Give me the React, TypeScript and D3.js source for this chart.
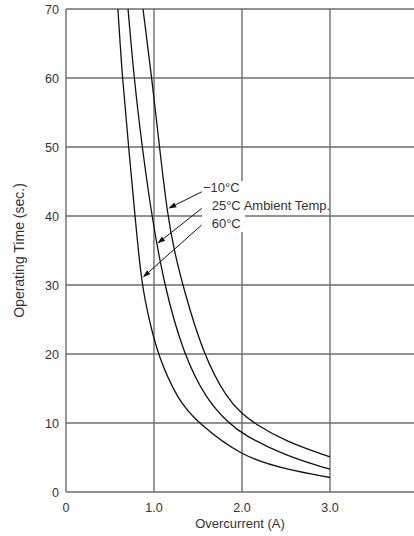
import React from "react";
import * as d3 from "d3";

const xTicks = [0, 1, 2, 3];
const xTickLabels = ["0", "1.0", "2.0", "3.0"];
const yTicks = [0, 10, 20, 30, 40, 50, 60, 70];

const curveMinus10X = [0.875, 0.975, 1.062, 1.155, 1.23, 1.325, 1.555, 1.84, 2.0, 2.13, 2.5, 3.0];
const curveMinus10Y = [70, 60, 50, 40, 35, 30, 20, 13.3, 11.4, 10, 7.3, 5.1];
const curve25X = [0.705, 0.773, 0.865, 0.974, 1.115, 1.333, 1.6, 1.85, 2.0, 2.5, 3.0];
const curve25Y = [70, 60, 50, 40, 30, 20, 13.3, 10, 8.4, 5.2, 3.3];
const curve60X = [0.59, 0.64, 0.712, 0.784, 0.86, 0.945, 1.04, 1.27, 1.5, 2.0, 2.5, 3.0];
const curve60Y = [70, 60, 50, 40, 30, 25, 20, 13.3, 10, 5.1, 3.3, 2.1];

const labels = ["\u221210\u00B0C", "25\u00B0C Ambient Temp.", "60\u00B0C"];
const labelX = [1.557, 1.656, 1.656];
const labelY = [43.5, 40.9, 38.3];
const arrowTipX = [1.163, 1.0375, 0.872];
const arrowTipY = [41.1, 36.0, 31.1];
const arrowTailX = [1.542, 1.542, 1.542];
const arrowTailY = [43.5, 41.1, 38.7];

const W = 414;
const H = 536;
const FONT = "'Liberation Sans', Arial, Helvetica, sans-serif";

export default function App() {
  const x = d3.scaleLinear().domain([0, 3.955]).range([66, 414]);
  const y = d3.scaleLinear().domain([0, 70]).range([492, 9]);
  const gridColor = "#6c6c6c";
  const textColor = "#333";

  const line = d3
    .line<[number, number]>()
    .x((d) => x(d[0]))
    .y((d) => y(d[1]))
    .curve(d3.curveBasis);

  const series = [
    curveMinus10X.map((v, i) => [v, curveMinus10Y[i]] as [number, number]),
    curve25X.map((v, i) => [v, curve25Y[i]] as [number, number]),
    curve60X.map((v, i) => [v, curve60Y[i]] as [number, number]),
  ];

  const arrows = arrowTipX.map((tx, i) => {
    const x1 = x(arrowTailX[i]);
    const y1 = y(arrowTailY[i]);
    const x2 = x(tx);
    const y2 = y(arrowTipY[i]);
    const ang = Math.atan2(y2 - y1, x2 - x1);
    const L = 8;
    const Wd = 2.6;
    const bx = x2 - L * Math.cos(ang);
    const by = y2 - L * Math.sin(ang);
    const px = -Math.sin(ang) * Wd;
    const py = Math.cos(ang) * Wd;
    return { x1, y1, bx, by, x2, y2, head: `M${x2},${y2}L${bx + px},${by + py}L${bx - px},${by - py}Z` };
  });

  return (
    <svg
      width={W}
      height={H}
      style={{ position: "absolute", left: 0, top: 0, background: "#fff" }}
      fontFamily={FONT}
    >
      <rect x={0} y={0} width={W} height={H} fill="#fff" />
      {yTicks.map((t) => (
        <line key={"h" + t} x1={x(0)} x2={W} y1={y(t)} y2={y(t)} stroke={gridColor} strokeWidth={1.4} />
      ))}
      {xTicks.map((t) => (
        <line key={"v" + t} x1={x(t)} x2={x(t)} y1={y(0)} y2={y(70)} stroke={gridColor} strokeWidth={1.4} />
      ))}
      <rect x={202} y={181} width={43} height={51} fill="#fff" />
      {series.map((s, i) => (
        <path key={"c" + i} d={line(s) || ""} fill="none" stroke="#111" strokeWidth={1.3} />
      ))}
      {arrows.map((a, i) => (
        <g key={"a" + i}>
          <line x1={a.x1} y1={a.y1} x2={a.bx} y2={a.by} stroke="#111" strokeWidth={1} />
          <path d={a.head} fill="#111" />
        </g>
      ))}
      {labels.map((l, i) => (
        <text key={"l" + i} x={x(labelX[i])} y={y(labelY[i])} fontSize={13} fill={textColor}>
          {l}
        </text>
      ))}
      {yTicks.map((t) => (
        <text key={"yt" + t} x={59} y={y(t) + 4.5} fontSize={12.5} textAnchor="end" fill={textColor}>
          {t}
        </text>
      ))}
      {xTicks.map((t, i) => (
        <text key={"xt" + t} x={x(t)} y={512} fontSize={12.5} textAnchor="middle" fill={textColor}>
          {xTickLabels[i]}
        </text>
      ))}
      <text x={(x(0) + W) / 2} y={528} fontSize={13} textAnchor="middle" fill={textColor}>
        Overcurrent (A)
      </text>
      <text
        transform={`translate(24, ${(y(0) + y(70)) / 2}) rotate(-90)`}
        fontSize={14}
        textAnchor="middle"
        fill={textColor}
      >
        Operating Time (sec.)
      </text>
    </svg>
  );
}
